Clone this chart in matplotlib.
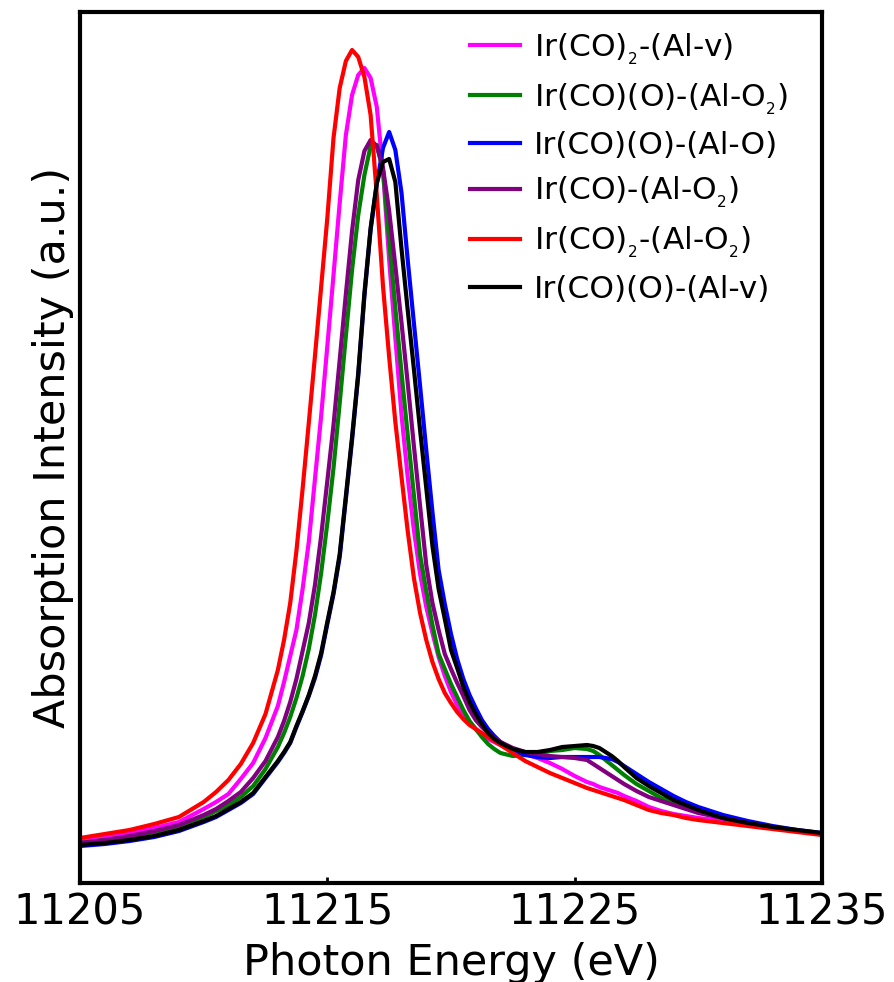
import matplotlib

matplotlib.use("Agg")
import matplotlib.pyplot as plt

# photon energy grid (eV), shared by all spectra
energy = [11205, 11206, 11207, 11208, 11209, 11210, 11210.5, 11211, 11211.5, 11212,
          11212.5, 11213, 11213.25, 11213.5, 11213.75, 11214, 11214.25, 11214.5,
          11214.75, 11215, 11215.25, 11215.5, 11215.75, 11216, 11216.25, 11216.5,
          11216.75, 11217, 11217.25, 11217.5, 11217.75, 11218, 11218.25, 11218.5,
          11218.75, 11219, 11219.25, 11219.5, 11219.75, 11220, 11220.25, 11220.5,
          11220.75, 11221, 11221.25, 11221.5, 11221.75, 11222, 11222.5, 11223,
          11223.5, 11224, 11224.5, 11225, 11225.5, 11225.75, 11226, 11226.25,
          11226.5, 11226.75, 11227, 11227.5, 11228, 11228.5, 11229, 11229.5,
          11230, 11231, 11232, 11233, 11234, 11235]

# absorption intensity (a.u.)
ir_co2_alv = [42, 46, 50, 55, 61, 74, 81, 89, 104, 120, 145, 177, 201, 227, 253, 294,
              341, 404, 467, 537, 608, 680, 748, 788, 808, 815, 805, 776, 713, 623,
              545, 468, 406, 353, 309, 276, 250, 226, 207, 191, 178, 168, 160, 154,
              148, 144, 141, 138, 133, 129, 125, 120, 114, 107, 101, 99, 96, 94, 92,
              90, 87, 82, 76, 72, 69, 67, 65, 62, 58, 55, 52, 49]
ir_co_o_alo2 = [40, 43, 46, 51, 56, 66, 72, 78, 86, 97, 114, 136, 150, 166, 185, 207,
                234, 268, 310, 360, 415, 480, 547, 613, 668, 708, 737, 738, 713, 643,
                575, 510, 448, 388, 328, 292, 258, 229, 214, 199, 186, 173, 162, 154,
                146, 139, 134, 130, 127, 128, 130, 132, 133, 135, 134, 132, 128, 123,
                118, 113, 108, 99, 92, 85, 80, 75, 71, 65, 59, 56, 52, 49]
ir_co_o_alo = [37, 39, 42, 46, 52, 61, 66, 73, 80, 89, 105, 121, 130, 140, 156, 171,
               187, 205, 228, 259, 289, 326, 384, 443, 507, 587, 653, 699, 735, 751,
               733, 690, 623, 560, 497, 433, 371, 313, 279, 249, 224, 204, 188, 175,
               163, 154, 147, 141, 133, 128, 126, 125, 126, 126, 126, 126, 126, 125,
               124, 121, 117, 109, 101, 94, 87, 81, 76, 68, 62, 57, 53, 50]
ir_co_alo2 = [40, 43, 47, 52, 58, 68, 74, 82, 91, 105, 122, 146, 162, 181, 204, 232,
              260, 298, 347, 402, 458, 523, 589, 652, 703, 732, 743, 737, 715, 672,
              617, 560, 500, 437, 377, 318, 280, 253, 229, 214, 200, 187, 173, 163,
              156, 150, 145, 141, 135, 131, 129, 127, 126, 125, 123, 119, 115, 111,
              107, 103, 99, 92, 86, 82, 78, 74, 70, 65, 60, 56, 52, 49]
ir_co2_alo2 = [45, 49, 53, 59, 66, 81, 91, 103, 119, 140, 169, 213, 243, 280, 332, 394,
               460, 527, 596, 665, 745, 795, 822, 833, 826, 806, 768, 688, 597, 526,
               461, 406, 352, 305, 270, 243, 221, 204, 190, 180, 171, 164, 158, 154,
               150, 146, 142, 138, 130, 122, 116, 110, 105, 100, 95, 93, 91, 89, 87,
               85, 83, 78, 73, 70, 68, 65, 63, 60, 57, 54, 51, 48]
ir_co_o_alv = [38, 40, 43, 47, 53, 62, 67, 74, 81, 90, 106, 122, 131, 141, 157, 172,
               188, 207, 230, 261, 291, 329, 387, 446, 510, 590, 655, 700, 721, 724,
               701, 634, 573, 514, 453, 395, 337, 294, 264, 233, 215, 196, 181, 169,
               159, 150, 144, 140, 134, 131, 131, 133, 136, 137, 138, 137, 135, 131,
               127, 122, 116, 105, 97, 90, 83, 78, 73, 65, 60, 56, 53, 50]

series = [
    (ir_co2_alv, "#FF00FF", r"Ir(CO)$_{_2}$-(Al-v)"),
    (ir_co_o_alo2, "#008000", r"Ir(CO)(O)-(Al-O$_{_2}$)"),
    (ir_co_o_alo, "#0000FF", r"Ir(CO)(O)-(Al-O)"),
    (ir_co_alo2, "#800080", r"Ir(CO)-(Al-O$_{_2}$)"),
    (ir_co2_alo2, "#FF0000", r"Ir(CO)$_{_2}$-(Al-O$_{_2}$)"),
    (ir_co_o_alv, "#000000", r"Ir(CO)(O)-(Al-v)"),
]

fig = plt.figure(figsize=(8.95, 9.82), dpi=100)
ax = fig.add_axes([0.0894, 0.1008, 0.829, 0.887])

for vals, color, label in series:
    ax.plot(energy, vals, color=color, lw=3, label=label)

ax.set_xlim(11205, 11235)
ax.set_ylim(0, 871)
ax.set_xticks([11205, 11215, 11225, 11235])
ax.set_yticks([])
ax.tick_params(axis="x", direction="in", length=4, width=2, labelsize=30, pad=6)
for s in ax.spines.values():
    s.set_linewidth(3)

ax.set_xlabel("Photon Energy (eV)", fontsize=31, labelpad=6)
ax.set_ylabel("Absorption Intensity (a.u.)", fontsize=31, labelpad=4)

ax.legend(loc="upper left", bbox_to_anchor=(0.526, 0.978), frameon=False,
          fontsize=22.5, handlelength=1.6, handletextpad=0.45,
          labelspacing=0.46, borderpad=0, borderaxespad=0)

fig.savefig("out.png", dpi=100)
